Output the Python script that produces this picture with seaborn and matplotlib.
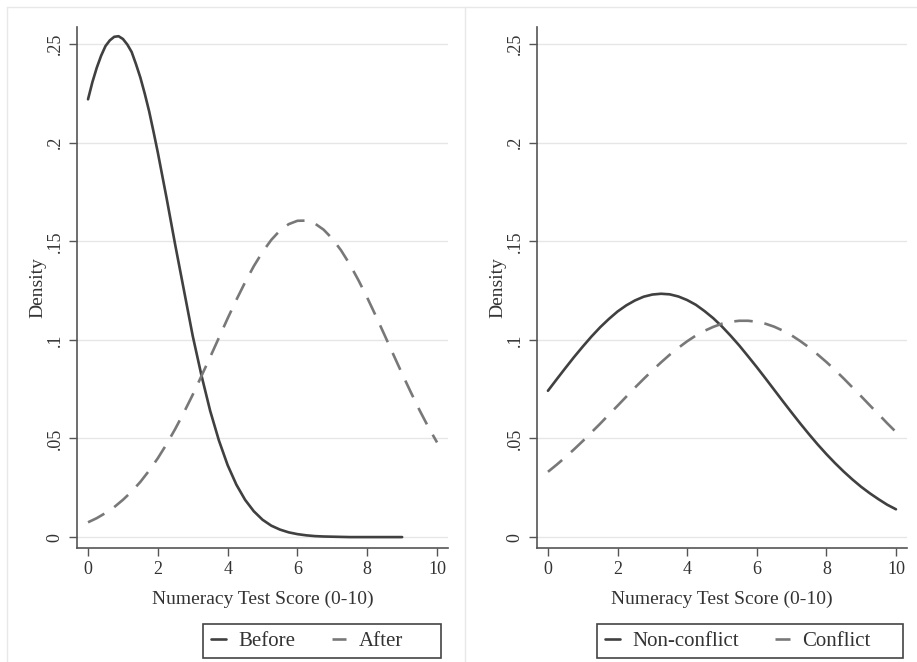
import numpy as np
import pandas as pd
import matplotlib
matplotlib.use("Agg")
import matplotlib.pyplot as plt
import seaborn as sns
from matplotlib.lines import Line2D
from matplotlib.patches import Rectangle

# valeurs
score = [i * 0.25 for i in range(41)]
# pas plus fin autour du pic de "Before"
before_x = [i * 0.125 for i in range(17)] + [2.25 + i * 0.25 for i in range(28)]

before = [0.222, 0.2307, 0.238, 0.2441, 0.249, 0.2519, 0.2537, 0.254, 0.2526, 0.2498,
          0.246, 0.2398, 0.233, 0.2249, 0.216, 0.2057, 0.195,
          0.172, 0.148, 0.125, 0.102, 0.082, 0.064, 0.049, 0.0365, 0.0266, 0.0189, 0.0131,
          0.0088, 0.0058, 0.0038, 0.0024, 0.0015, 0.0009, 0.0005, 0.0003, 0.0002, 0.0001,
          0.0, 0.0, 0.0, 0.0, 0.0, 0.0, 0.0]
after = [0.0075, 0.0096, 0.0122, 0.0152, 0.0189, 0.0231, 0.0280, 0.0337, 0.0400, 0.0471,
         0.0549, 0.0633, 0.0722, 0.0817, 0.0913, 0.1011, 0.1109, 0.1203, 0.1292, 0.1374,
         0.1446, 0.1507, 0.1555, 0.1587, 0.1604, 0.1605, 0.1590, 0.1559, 0.1513, 0.1454,
         0.1383, 0.1302, 0.1214, 0.1120, 0.1023, 0.0925, 0.0828, 0.0734, 0.0643, 0.0558,
         0.0480]
non_conflict = [0.0742, 0.0800, 0.0857, 0.0913, 0.0966, 0.1017, 0.1064, 0.1106, 0.1144, 0.1175,
                0.1200, 0.1219, 0.1230, 0.1234, 0.1231, 0.1220, 0.1202, 0.1178, 0.1146, 0.1110,
                0.1068, 0.1021, 0.0971, 0.0917, 0.0862, 0.0805, 0.0747, 0.0689, 0.0632, 0.0576,
                0.0522, 0.0470, 0.0421, 0.0375, 0.0332, 0.0292, 0.0255, 0.0222, 0.0192, 0.0164,
                0.0141]
conflict = [0.0331, 0.0367, 0.0405, 0.0445, 0.0487, 0.0531, 0.0575, 0.0621, 0.0666, 0.0712,
            0.0758, 0.0802, 0.0845, 0.0886, 0.0925, 0.0960, 0.0993, 0.1022, 0.1046, 0.1066,
            0.1082, 0.1092, 0.1097, 0.1097, 0.1092, 0.1082, 0.1067, 0.1047, 0.1023, 0.0994,
            0.0962, 0.0926, 0.0888, 0.0847, 0.0804, 0.0759, 0.0714, 0.0668, 0.0623, 0.0577,
            0.0533]

yticks = [0, 0.05, 0.1, 0.15, 0.2, 0.25]
ytick_labels = ["0", ".05", ".1", ".15", ".2", ".25"]
xticks = [0, 2, 4, 6, 8, 10]

sns.set_style("white")
plt.rcParams["font.family"] = ["Liberation Serif", "DejaVu Serif"]

dark = "#404040"
grey = "#787878"

fig = plt.figure(figsize=(9.17, 6.62), dpi=100)
ax1 = fig.add_axes([0.084, 0.172, 0.4046, 0.787])
ax2 = fig.add_axes([0.5856, 0.172, 0.4034, 0.787])

# (axe, x1, serie1, x2, serie2, libelles, cadre legende en px: gauche, largeur)
panels = [
    (ax1, before_x, before, score, after, "Before", "After", 203, 238),
    (ax2, score, non_conflict, score, conflict, "Non-conflict", "Conflict", 597, 306),
]

W, H = 917, 662
for ax, x1, s1, x2, s2, lab1, lab2, bx, bw in panels:
    sns.lineplot(x=x1, y=s1, ax=ax, color=dark, lw=1.9, label=lab1)
    sns.lineplot(x=x2, y=s2, ax=ax, color=grey, lw=1.9, label=lab2,
                 dashes=False, linestyle=(0, (7, 4.5)))
    ax.set_xlim(-0.315, 10.315)
    ax.set_ylim(-0.0056, 0.2586)
    ax.set_yticks(yticks)
    ax.set_yticklabels(ytick_labels, rotation=90, va="center")
    ax.set_xticks(xticks)
    ax.grid(axis="y", color="#e6e6e6", lw=1)
    ax.grid(axis="x", visible=False)
    for sp in ["top", "right"]:
        ax.spines[sp].set_visible(False)
    for sp in ["left", "bottom"]:
        ax.spines[sp].set_color("#555555")
        ax.spines[sp].set_linewidth(1.2)
    ax.tick_params(axis="both", direction="out", length=6, width=1, color="#555555",
                   labelsize=13, labelcolor="#333333", left=True, bottom=True)
    ax.set_xlabel("Numeracy Test Score (0-10)", fontsize=14, color="#333333", labelpad=9)
    ax.set_ylabel("Density", fontsize=14, color="#333333", labelpad=0)

    # legende sans cadre + cadre dessine a part (largeur fixe comme Stata)
    leg = ax.legend(loc="center left", bbox_to_anchor=((bx + 1) / W, 1 - 641 / H),
                    bbox_transform=fig.transFigure, ncol=2, fontsize=15, frameon=False,
                    handlelength=0.7, columnspacing=1.75, handletextpad=0.6,
                    borderpad=0.35, borderaxespad=0)
    for t in leg.get_texts():
        t.set_color("#333333")
    fig.add_artist(Rectangle((bx / W, 1 - 658 / H), bw / W, 34 / H, fill=False,
                             edgecolor="#444444", lw=1.2, transform=fig.transFigure))

# cadres gris clair autour des panneaux
for xs, ys in [([0.008, 0.008], [0, 0.989]), ([0.008, 1.0], [0.989, 0.989]),
               ([0.507, 0.507], [0, 0.989])]:
    fig.add_artist(Line2D(xs, ys, color="#e8e8e8", lw=1, transform=fig.transFigure))

fig.savefig("out.png", dpi=100, facecolor="white")
